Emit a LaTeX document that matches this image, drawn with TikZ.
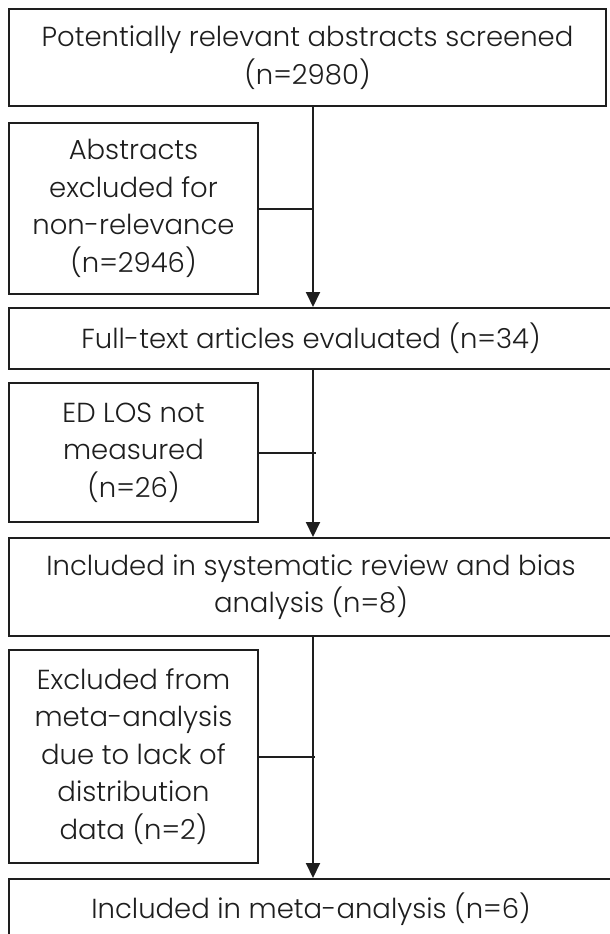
\documentclass[tikz,border=0pt]{standalone}
\usepackage{fontspec}
\IfFontExistsTF{Poppins Light}{\setmainfont{Poppins Light}}{\setmainfont{Poppins}}
\usetikzlibrary{arrows.meta}
\definecolor{ink}{HTML}{1E1E1E}
\begin{document}
\begin{tikzpicture}[x=1pt,y=-1pt,
  every node/.style={font=\fontsize{27.5}{37.5}\selectfont, text=ink},
  box/.style={draw=ink, line width=2pt, rectangle, anchor=north west, align=center, inner sep=0pt},
  mainbox/.style={box, minimum width=604pt},
  sidebox/.style={box, minimum width=249pt},
  flow/.style={draw=ink, line width=2pt, -{Triangle[width=14pt,length=15pt]}},
  branch/.style={draw=ink, line width=2pt}]
\useasboundingbox (0,0) rectangle (610,934);
\coordinate (vx) at (313,0);
\node[box, minimum width=597pt, minimum height=97pt] (b1) at (8,8)
  {Potentially relevant abstracts screened\\(n=2980)};
\node[sidebox, minimum height=171pt] (a1) at (8,122)
  {Abstracts\\excluded for\\non-relevance\\(n=2946)};
\node[mainbox, minimum height=61pt] (b2) at (8,307)
  {Full-text articles evaluated (n=34)};
\node[sidebox, minimum height=139pt] (a2) at (8,382)
  {ED LOS not\\measured\\(n=26)};
\node[mainbox, minimum height=98pt] (b3) at (8,537)
  {Included in systematic review and bias\\analysis (n=8)};
\node[sidebox, minimum height=213pt] (a3) at (8,649)
  {Excluded from\\meta-analysis\\due to lack of\\distribution\\data (n=2)};
\node[mainbox, minimum height=61pt] (b4) at (8,878)
  {Included in meta-analysis (n=6)};
\draw[flow] (b1.south -| vx) -- (b2.north -| vx);
\draw[flow] (b2.south -| vx) -- (b3.north -| vx);
\draw[flow] (b3.south -| vx) -- (b4.north -| vx);
\draw[branch] (a1.east) -- (a1.east -| vx);
\draw[branch] (a2.east) -- ([xshift=3pt]a2.east -| vx);
\draw[branch] (a3.east) -- ([xshift=2pt]a3.east -| vx);
\end{tikzpicture}
\end{document}
